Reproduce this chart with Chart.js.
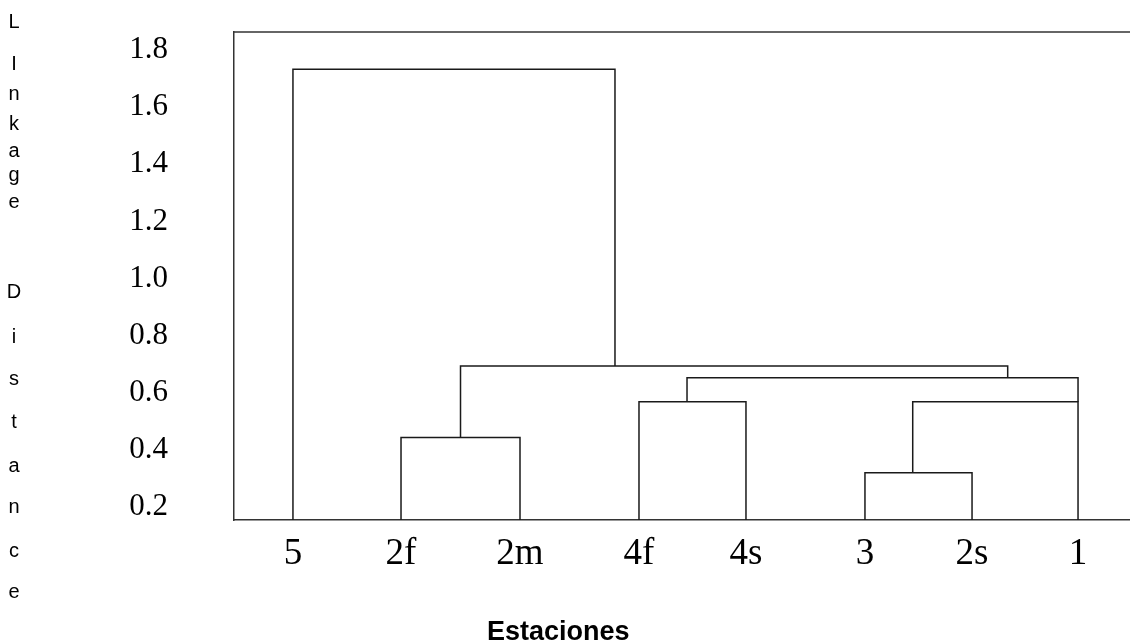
<!DOCTYPE html>
<html>
<head>
<title>Linkage Distance</title>
<script src="https://cdn.jsdelivr.net/npm/chart.js@4.4.1/dist/chart.umd.min.js"></script>
<style>
  html, body { margin: 0; padding: 0; background: #fff; }
  #wrap { width: 1130px; height: 643px; }
</style>
</head>
<body>
<div id="wrap"><canvas id="myChart" width="1130" height="643"></canvas></div>
<script>
// leaves (stations) in drawing order and where they sit on the x axis
var stations = ['5', '2f', '2m', '4f', '4s', '3', '2s', '1'];
var stationPos = [0.658, 1.864, 3.192, 4.52, 5.714, 7.042, 8.237, 9.42];

// merges: n1..n7
var mergeLeft = ['3', '2f', '4f', 'n1', 'n3', 'n2', '5'];
var mergeRight = ['2s', '2m', '4s', '1', 'n4', 'n5', 'n6'];
var mergeHeight = [0.32, 0.444, 0.569, 0.569, 0.653, 0.694, 1.733];
var mergePos = [7.575, 2.528, 5.056, 9.42, 8.635, 4.252, 2.455];

var yTicks = [0.2, 0.4, 0.6, 0.8, 1.0, 1.2, 1.4, 1.6, 1.8];
var yMin = 0.155, yMax = 1.863;

var yTitle = ['L', 'I', 'n', 'k', 'a', 'g', 'e', 'D', 'i', 's', 't', 'a', 'n', 'c', 'e'];
var yTitleBase = [28, 70, 100, 130, 157, 181, 208, 298, 343, 385, 428, 472, 513, 557, 598];
var xTitle = 'Estaciones';

function nodeOf(name) {
  var i = stations.indexOf(name);
  if (i >= 0) return { x: stationPos[i], y: yMin };
  var k = parseInt(name.slice(1)) - 1;
  return { x: mergePos[k], y: mergeHeight[k] };
}

var datasets = [];
for (var i = 0; i < mergeHeight.length; i++) {
  var a = nodeOf(mergeLeft[i]);
  var b = nodeOf(mergeRight[i]);
  var h = mergeHeight[i];
  datasets.push({
    data: [{ x: a.x, y: a.y }, { x: a.x, y: h }, { x: b.x, y: h }, { x: b.x, y: b.y }],
    borderColor: '#1a1a1a',
    borderWidth: 1.5,
    pointRadius: 0,
    tension: 0,
    fill: false,
    clip: false
  });
}

var lines = '#333';
var titles = {
  id: 'titles',
  afterDraw: function (chart) {
    var ctx = chart.ctx;
    var area = chart.chartArea;
    ctx.save();
    // top frame line
    ctx.strokeStyle = lines;
    ctx.lineWidth = 1.5;
    ctx.beginPath();
    ctx.moveTo(area.left, area.top);
    ctx.lineTo(area.right, area.top);
    ctx.stroke();

    ctx.fillStyle = '#000';
    ctx.textAlign = 'center';
    ctx.textBaseline = 'alphabetic';
    ctx.font = '20px "Liberation Sans", Arial, sans-serif';
    for (var i = 0; i < yTitle.length; i++) {
      ctx.fillText(yTitle[i], 14, yTitleBase[i]);
    }
    ctx.font = 'bold 27px "Liberation Sans", Arial, sans-serif';
    ctx.textAlign = 'left';
    ctx.fillText(xTitle, 487, 640);
    ctx.restore();
  }
};

function noPad(s) {
  s.paddingTop = 0; s.paddingBottom = 0; s.paddingLeft = 0; s.paddingRight = 0;
}

var ctx = document.getElementById('myChart').getContext('2d');
var chart = new Chart(ctx, {
  type: 'line',
  data: { datasets: datasets },
  options: {
    responsive: false,
    animation: false,
    layout: { padding: { top: 32, left: 0, right: 0, bottom: 0 } },
    plugins: { legend: { display: false }, tooltip: { enabled: false } },
    scales: {
      x: {
        type: 'linear',
        min: 0,
        max: 10,
        grid: { display: false, drawTicks: false },
        border: { display: true, color: lines, width: 1.5 },
        afterBuildTicks: function (s) { s.ticks = stationPos.map(function (v) { return { value: v }; }); },
        afterFit: function (s) { s.height = 123; noPad(s); },
        ticks: {
          autoSkip: false,
          maxRotation: 0,
          padding: 12,
          color: '#000',
          font: { family: '"Liberation Serif", "Times New Roman", serif', size: 37 },
          callback: function (v, i) { return stations[i]; }
        }
      },
      y: {
        min: yMin,
        max: yMax,
        grid: { display: false, drawTicks: false },
        border: { display: true, color: lines, width: 1.5 },
        afterBuildTicks: function (s) { s.ticks = yTicks.map(function (v) { return { value: v }; }); },
        afterFit: function (s) { s.width = 234; noPad(s); },
        ticks: {
          padding: 66,
          color: '#000',
          font: { family: '"Liberation Serif", "Times New Roman", serif', size: 31 },
          callback: function (v) { return v.toFixed(1); }
        }
      }
    }
  },
  plugins: [titles]
});
</script>
</body>
</html>
